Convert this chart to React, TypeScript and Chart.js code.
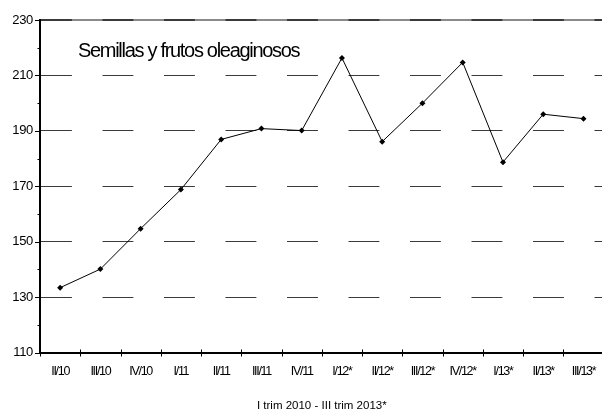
import React, { useEffect, useRef } from "react";
import { Chart, registerables } from "chart.js";

Chart.register(...registerables);

const CATEGORIES = ["II/10", "III/10", "IV/10", "I/11", "II/11", "III/11", "IV/11", "I/12*", "II/12*", "III/12*", "IV/12*", "I/13*", "II/13*", "III/13*"];
const VALUES = [133.4, 140.1, 154.7, 168.8, 186.9, 190.8, 190.1, 216.3, 186.1, 200.0, 214.7, 178.7, 196.0, 194.4];
const Y_LABELS = [110, 130, 150, 170, 190, 210, 230];
const Y_MIN = 110;
const Y_MAX = 230;
const Y_STEP = 10;
const CHART_TITLE = "Semillas y frutos oleaginosos";
const X_TITLE = "I trim 2010 - III trim 2013*";

const FONT = '"Liberation Sans", Arial, sans-serif';

const decorPlugin = {
  id: "decor",
  beforeDraw(chart: any) {
    const { ctx, chartArea } = chart;
    const y = chart.scales.y;
    // grey top frame line under dashed 230 line
    ctx.save();
    ctx.strokeStyle = "#8a8a8a";
    ctx.lineWidth = 2;
    ctx.beginPath();
    const yt = y.getPixelForValue(Y_MAX);
    ctx.moveTo(chartArea.left, yt);
    ctx.lineTo(chartArea.right, yt);
    ctx.stroke();
    ctx.restore();
    const spacing: Record<string, string> = { x: "-1.3px", y: "-0.3px" };
    for (const id of ["x", "y"]) {
      const s: any = chart.scales[id];
      if (s && !s.__patched) {
        const orig = s.drawLabels;
        s.drawLabels = function (area: any) {
          const c = this.ctx;
          c.save();
          c.letterSpacing = spacing[id];
          orig.call(this, area);
          c.restore();
        };
        s.__patched = true;
      }
    }
  },
  afterDraw(chart: any) {
    const { ctx, chartArea } = chart;
    const xs = chart.scales.x;
    const ys = chart.scales.y;
    ctx.save();
    ctx.strokeStyle = "#000";
    ctx.lineWidth = 1;
    // y tick marks
    for (let v = Y_MIN; v <= Y_MAX; v += Y_STEP) {
      const py = Math.round(ys.getPixelForValue(v)) + 0.5;
      const len = Y_LABELS.includes(v) ? 5 : 2.5;
      ctx.beginPath();
      ctx.moveTo(chartArea.left - len, py);
      ctx.lineTo(chartArea.left, py);
      ctx.stroke();
    }
    // x tick marks at category boundaries
    for (let i = 0; i <= CATEGORIES.length; i++) {
      let px: number;
      if (i === 0) px = chartArea.left;
      else if (i === CATEGORIES.length) px = chartArea.right;
      else px = (xs.getPixelForValue(i - 1) + xs.getPixelForValue(i)) / 2;
      px = Math.round(px) + 0.5;
      ctx.beginPath();
      ctx.moveTo(px, chartArea.bottom - 3);
      ctx.lineTo(px, chartArea.bottom + 4);
      ctx.stroke();
    }
    // chart title inside plot
    ctx.fillStyle = "#000";
    ctx.font = `20px ${FONT}`;
    ctx.letterSpacing = "-1.3px";
    ctx.textAlign = "left";
    ctx.textBaseline = "alphabetic";
    ctx.fillText(CHART_TITLE, 78, 56.7);
    ctx.restore();
  },
};

export default function App() {
  const ref = useRef<HTMLCanvasElement | null>(null);
  useEffect(() => {
    if (!ref.current) return;
    const chart = new Chart(ref.current, {
      type: "line",
      data: {
        labels: CATEGORIES,
        datasets: [
          {
            data: VALUES,
            borderColor: "#000",
            backgroundColor: "#000",
            borderWidth: 1,
            pointStyle: "rectRot",
            pointRadius: 3,
            pointBorderWidth: 0,
            pointBackgroundColor: "#000",
            tension: 0,
          },
        ],
      },
      options: {
        animation: false,
        responsive: true,
        maintainAspectRatio: false,
        layout: { padding: { top: 20, right: 5, left: 0, bottom: 0 } },
        plugins: { legend: { display: false }, tooltip: { enabled: false }, title: { display: false } },
        scales: {
          x: {
            type: "category",
            offset: true,
            afterFit: (s: any) => {
              s.height = 62.5;
            },
            grid: { display: true, drawOnChartArea: false, drawTicks: false, color: "rgba(0,0,0,0)" },
            border: { display: true, color: "#000", width: 2 },
            ticks: {
              autoSkip: false,
              maxRotation: 0,
              padding: 12,
              color: "#000",
              font: { family: FONT, size: 12.5 },
            },
            title: {
              display: true,
              text: X_TITLE,
              color: "#000",
              font: { family: FONT, size: 11.5 },
              padding: { top: 0, bottom: 2.3 },
            },
          },
          y: {
            min: Y_MIN,
            max: Y_MAX,
            afterFit: (s: any) => {
              s.width = 40;
            },
            grid: {
              display: true,
              drawOnChartArea: true,
              drawTicks: false,
              color: (c: any) => {
                const v = c.tick && c.tick.value;
                if (v === Y_MIN) return "rgba(0,0,0,0)";
                return Y_LABELS.includes(v) ? "#3a3a3a" : "rgba(0,0,0,0)";
              },
              lineWidth: (c: any) => (c.tick && c.tick.value === Y_MAX ? 2 : 1),
            },
            border: { display: true, color: "#000", width: 2, dash: [30.9, 30.6] },
            ticks: {
              stepSize: Y_STEP,
              autoSkip: false,
              padding: 7,
              color: "#000",
              font: { family: FONT, size: 13 },
              callback: (v: any) => (Y_LABELS.includes(Number(v)) ? String(v) : ""),
            },
          },
        },
      } as any,
      plugins: [decorPlugin],
    });
    return () => chart.destroy();
  }, []);
  return (
    <div style={{ position: "fixed", left: 0, top: 0, width: 602, height: 415, overflow: "hidden", background: "#fff" }}>
      <div style={{ position: "relative", width: 612, height: 415 }}>
        <canvas ref={ref} />
      </div>
    </div>
  );
}
